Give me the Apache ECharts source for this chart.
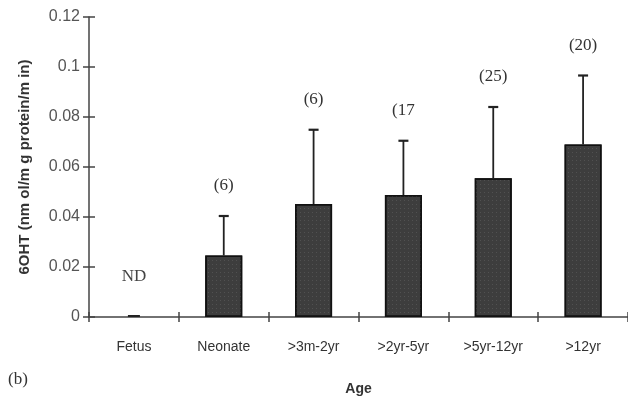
<!DOCTYPE html>
<html><head><meta charset="utf-8">
<script src="https://cdn.jsdelivr.net/npm/echarts@6/dist/echarts.min.js"></script>
<style>html,body{margin:0;padding:0;background:#fff}#c{width:628px;height:401px}</style>
</head><body><div id="c"></div>
<script>
var categories = ['Fetus','Neonate','>3m-2yr','>2yr-5yr','>5yr-12yr','>12yr'];
var means = [0, 0.0246, 0.0452, 0.0488, 0.0555, 0.0690];
var upper = [null, 0.0404, 0.0749, 0.0705, 0.0840, 0.0966];
var nLabels = ['ND','(6)','(6)','(17','(25)','(20)'];
var yTicks = [0, 0.02, 0.04, 0.06, 0.08, 0.1, 0.12];

var chart = echarts.init(document.getElementById('c'));
var axisColor = '#444';
chart.setOption({
  animation: false,
  grid: {left: 89, right: 0, top: 17, bottom: 81, containLabel: false},
  xAxis: [{
    type: 'category', data: categories, position: 'bottom',
    axisLine: {lineStyle: {color: axisColor, width: 1.5}},
    axisTick: {show: true, length: 5, lineStyle: {color: axisColor, width: 1.5}},
    axisLabel: {color: '#333', fontFamily: 'Liberation Sans, Arial, sans-serif', fontSize: 14, margin: 23, interval: 0},
    name: 'Age', nameLocation: 'middle', nameGap: 65,
    nameTextStyle: {color: '#333', fontWeight: 'bold', fontSize: 14, fontFamily: 'Liberation Sans, Arial, sans-serif'}
  }, {
    type: 'category', data: categories, position: 'bottom', offset: 0,
    axisLine: {show: false},
    axisTick: {show: true, inside: true, length: 5, lineStyle: {color: axisColor, width: 1.5}},
    axisLabel: {show: false}
  }],
  yAxis: [{
    type: 'value', min: 0, max: 0.12, interval: 0.02,
    axisLine: {show: true, lineStyle: {color: axisColor, width: 1.5}},
    axisTick: {show: true, length: 6, lineStyle: {color: axisColor, width: 1.5}},
    splitLine: {show: false},
    axisLabel: {color: '#555', fontSize: 16, margin: 9, fontFamily: 'Liberation Sans, Arial, sans-serif',
      formatter: function(v){ return String(+v.toFixed(2)); }},
    name: '6OHT (nm ol/m g protein/m in)', nameLocation: 'middle', nameGap: 57, nameRotate: 90,
    nameTextStyle: {color: '#333', fontWeight: 'bold', fontSize: 15, fontFamily: 'Liberation Sans, Arial, sans-serif'}
  }, {
    type: 'value', min: 0, max: 0.12, interval: 0.02, position: 'left', offset: 0,
    axisLine: {show: false}, splitLine: {show: false}, axisLabel: {show: false},
    axisTick: {show: true, inside: true, length: 6, lineStyle: {color: axisColor, width: 1.5}}
  }],
  graphic: [{
    type: 'text', left: 8, top: 371,
    style: {text: '(b)', font: '17px "Liberation Serif", "Times New Roman", serif', fill: '#333'}
  }],
  series: [{
    type: 'bar', data: means.map(function(v, i){ return upper[i] == null ? null : v; }),
    barWidth: 37,
    itemStyle: {color: '#3d3d3d', borderColor: '#111', borderWidth: 1.5,
      decal: {symbol: 'rect', color: 'rgba(120,120,120,0.35)', dashArrayX: [1, 3], dashArrayY: [1, 3], symbolSize: 1, rotation: 0}}
  }, {
    type: 'custom',
    data: categories.map(function(c, i){ return [i, upper[i] == null ? 0 : upper[i]]; }),
    encode: {x: 0, y: 1},
    z: 3,
    renderItem: function(params, api){
      var i = api.value(0);
      var base = api.coord([i, 0]);
      var font = '17px "Liberation Serif", "Times New Roman", serif';
      var ch = [];
      if (upper[i] == null) {
        ch.push({type: 'line', shape: {x1: base[0]-6, y1: base[1]-1, x2: base[0]+6, y2: base[1]-1}, style: {stroke: '#222', lineWidth: 2}});
        ch.push({type: 'text', x: base[0], y: base[1]-40, style: {text: nLabels[i], font: font, fill: '#444', align: 'center', verticalAlign: 'middle'}});
      } else {
        var top = api.coord([i, upper[i]]);
        var bar = api.coord([i, means[i]]);
        ch.push({type: 'line', shape: {x1: top[0], y1: bar[1], x2: top[0], y2: top[1]}, style: {stroke: '#222', lineWidth: 1.8}});
        ch.push({type: 'line', shape: {x1: top[0]-5, y1: top[1], x2: top[0]+5, y2: top[1]}, style: {stroke: '#222', lineWidth: 2.2}});
        ch.push({type: 'text', x: top[0], y: top[1]-30, style: {text: nLabels[i], font: font, fill: '#333', align: 'center', verticalAlign: 'middle'}});
      }
      return {type: 'group', children: ch};
    }
  }]
});
</script></body></html>
